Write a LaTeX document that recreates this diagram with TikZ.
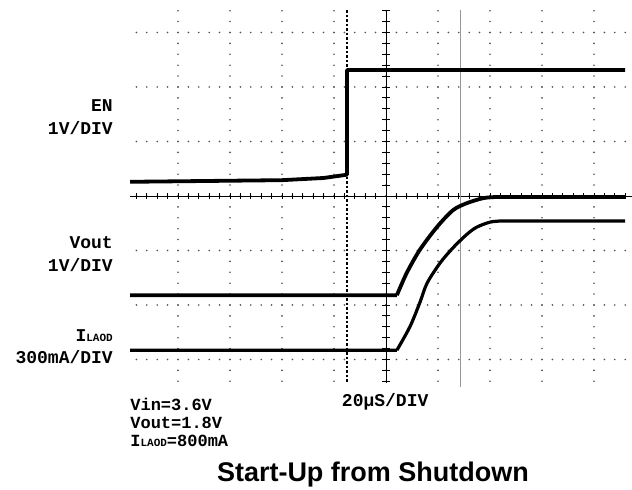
\documentclass[tikz,border=0pt]{standalone}
\usepackage{fontspec}
\setmainfont{Liberation Sans}
\newfontfamily\scopefont{Liberation Mono}
\usepackage{xcolor}
\usetikzlibrary{positioning}
\definecolor{gridGray}{RGB}{80,80,80}
\definecolor{cursorGray}{RGB}{150,150,150}
\tikzstyle{trace} = [line width=3.8pt, line join=round, black]
\tikzstyle{scopelabel} = [font=\scopefont\bfseries\fontsize{18}{18}\selectfont, inner sep=0pt]
\tikzstyle{notelabel} = [font=\scopefont\bfseries\fontsize{17}{17}\selectfont, inner sep=0pt, anchor=west]
\newcommand{\iload}{I{\fontsize{11}{11}\selectfont LAOD}}

\begin{document}
\begin{tikzpicture}[x=52pt, y=54.5pt]

    \useasboundingbox (-7.423,3.596) rectangle (4.731,-5.394);

    % dotted graticule
    \foreach \y in {-3,...,3}{
      \foreach \i in {-24,...,23}{
        \fill[gridGray] (\i/5,\y) circle (0.9pt);
      }
    }
    \foreach \x in {-4,...,4}{
      \foreach \j in {-17,...,17}{
        \fill[gridGray] (\x,\j/5) circle (0.9pt);
      }
    }

    \coordinate (AxL) at (-4.92,0);
    \coordinate (AxR) at (4.73,0);
    \coordinate (AxT) at (0,3.41);
    \coordinate (AxB) at (0,-3.43);
    \draw[thick] (AxL) -- (AxR);
    \draw[thick] (AxT) -- (AxB);
    \foreach \i in {-24,...,23}{
      \draw[thick] (\i/5,0) ++(0,-3pt) -- ++(0,6pt);
    }
    \foreach \j in {-17,...,17}{
      \draw[thick] (0,\j/5) ++(-4pt,0) -- ++(8pt,0);
    }

    % trigger and cursor
    \coordinate (TrigT) at (-0.75,3.41);
    \coordinate (TrigB) at (-0.75,-3.43);
    \draw[line width=1.8pt, dash pattern=on 2.5pt off 2pt] (TrigT) -- (TrigB);
    \coordinate (CurT) at (1.44,3.41);
    \coordinate (CurB) at (1.44,-3.5);
    \draw[cursorGray, line width=1pt] (CurT) -- (CurB);

    % EN
    \draw[trace] (-4.92,0.26) -- (-2,0.29) -- (-1.2,0.33) -- (-0.75,0.39)
      -- (-0.75,2.31) -- (4.60,2.31);
    % Vout
    \draw[trace] (-4.92,-1.82) -- (0.21,-1.82)
      plot[smooth] coordinates {(0.21,-1.82) (0.40,-1.41) (0.65,-0.99) (0.98,-0.57)
        (1.29,-0.26) (1.56,-0.13) (1.87,-0.04) (2.10,-0.02)}
      -- (4.60,-0.02);
    % ILOAD
    \draw[trace, line width=3.2pt] (-4.92,-2.83) -- (0.21,-2.83)
      plot[smooth] coordinates {(0.21,-2.83) (0.46,-2.40) (0.65,-1.96) (0.79,-1.60)
        (1.04,-1.23) (1.29,-0.95) (1.56,-0.70) (1.75,-0.57) (2.00,-0.48) (2.19,-0.46)}
      -- (4.60,-0.46);

    % channel labels
    \node[scopelabel, anchor=east] (enLabel) at (-5.25,1.65) {EN};
    \node[scopelabel, anchor=east] (enScale) at (-5.25,1.25) {1V/DIV};
    \node[scopelabel, anchor=east] (voutLabel) at (-5.25,-0.86) {Vout};
    \node[scopelabel, anchor=east] (voutScale) at (-5.25,-1.27) {1V/DIV};
    \node[scopelabel, anchor=east] (iloadLabel) at (-5.25,-2.57) {\iload};
    \node[scopelabel, anchor=east] (iloadScale) at (-5.25,-2.95) {300mA/DIV};

    \node[notelabel] (vinNote) at (-4.92,-3.83) {Vin=3.6V};
    \node[notelabel] (voutNote) at (-4.92,-4.17) {Vout=1.8V};
    \node[notelabel] (iloadNote) at (-4.92,-4.50) {\iload=800mA};
    \node[scopelabel, anchor=west] (timeScale) at (-0.85,-3.78) {20µS/DIV};

    \node[font=\bfseries\fontsize{27}{27}\selectfont, inner sep=0pt] (title) at (-0.25,-5.12) {Start-Up from Shutdown};

\end{tikzpicture}
\end{document}
